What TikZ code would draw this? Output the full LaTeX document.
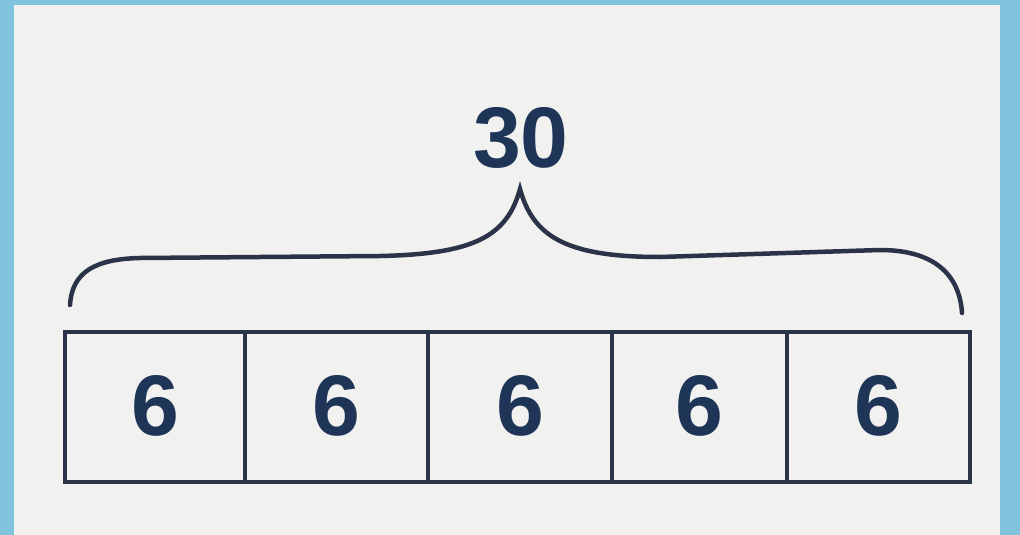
\documentclass[tikz,border=0pt]{standalone}
\usepackage{fontspec}
\setmainfont{Liberation Sans}
\definecolor{frame}{HTML}{7FC3DC}
\definecolor{paper}{HTML}{F1F1F0}
\definecolor{ink}{HTML}{2A3347}
\definecolor{txt}{HTML}{1F3558}
\begin{document}
\begin{tikzpicture}[x=1pt,y=-1pt,
  cell/.style={draw=ink,line width=4.5pt,minimum height=150pt,inner sep=0pt,outer sep=0pt,
    font=\fontsize{86}{86}\selectfont\bfseries,text=txt},
  brace/.style={draw=ink,line width=4.5pt,line cap=round}]
\useasboundingbox (0,0) rectangle (1020,535);
\fill[frame] (0,0) rectangle (1020,535);
\fill[paper] (14,5) rectangle (1000,535);
\node[cell,minimum width=180pt] (c1) at (155,407) {\raisebox{3pt}{6}};
\node[cell,minimum width=183pt] (c2) at (336.5,407) {\raisebox{3pt}{6}};
\node[cell,minimum width=184pt] (c3) at (520,407) {\raisebox{3pt}{6}};
\node[cell,minimum width=175pt] (c4) at (699.5,407) {\raisebox{3pt}{6}};
\node[cell,minimum width=183pt] (c5) at (878.5,407) {\raisebox{3pt}{6}};
\node[font=\fontsize{86}{86}\selectfont\bfseries,text=txt] (top) at (521,138) {30};
\coordinate (bl) at (70,305);
\coordinate (br) at (962,313);
\coordinate (pk) at (520,189);
\draw[brace] (bl) .. controls (72,272) and (95,259) .. (140,258) -- (380,256)
  .. controls (475,254) and (507,236) .. (pk)
  .. controls (533,236) and (565,257) .. (660,257) -- (880,250)
  .. controls (940,250) and (960,280) .. (br);
\end{tikzpicture}
\end{document}
